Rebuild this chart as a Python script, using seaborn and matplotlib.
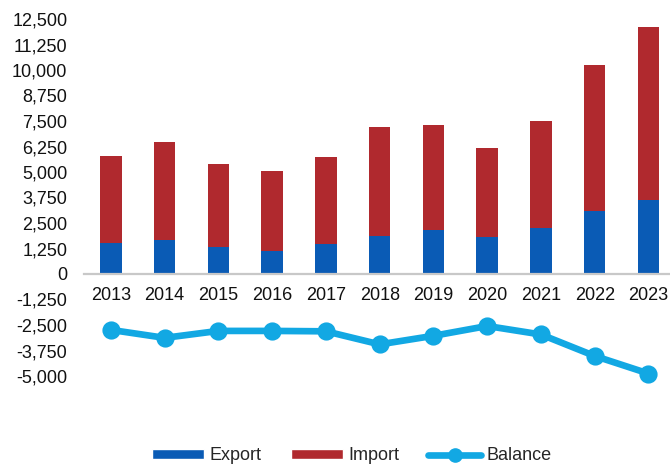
import matplotlib
matplotlib.use("Agg")
import matplotlib.pyplot as plt
import seaborn as sns
import pandas as pd
from matplotlib.patches import Patch
from matplotlib.lines import Line2D
from matplotlib.ticker import FuncFormatter

# values
years = ["2013", "2014", "2015", "2016", "2017", "2018", "2019", "2020", "2021", "2022", "2023"]
export = [1500, 1670, 1310, 1145, 1470, 1880, 2160, 1800, 2270, 3105, 3630]
imports = [4285, 4815, 4080, 3905, 4285, 5340, 5145, 4360, 5245, 7125, 8460]
balance = [-2740, -3130, -2790, -2790, -2810, -3450, -3030, -2550, -2965, -4020, -4880]
yticks = [-5000, -3750, -2500, -1250, 0, 1250, 2500, 3750, 5000,
          6250, 7500, 8750, 10000, 11250, 12500]

blue = "#0A5BB5"
red = "#B0292E"
light_blue = "#12A8E3"

df = pd.DataFrame({"year": years, "export": export, "import": imports, "balance": balance})
df["total"] = df["export"] + df["import"]

sns.set_style("white")
plt.rcParams["font.family"] = ["Liberation Sans", "DejaVu Sans"]

fig = plt.figure(figsize=(6.7, 4.67), dpi=100)
ax = fig.add_axes([84 / 670, 1 - 401.5 / 467, 586 / 670, (401.5 - 19) / 467])

# stacked bars: import sits on top of export
sns.barplot(data=df, x="year", y="total", color=red, width=0.4, saturation=1,
            linewidth=0, ax=ax, order=years)
sns.barplot(data=df, x="year", y="export", color=blue, width=0.4, saturation=1,
            linewidth=0, ax=ax, order=years)
sns.pointplot(data=df, x="year", y="balance", color=light_blue, order=years,
              markers="o", markersize=9.5, linewidth=4.8, ax=ax)

ax.set_xlim(-0.5, 10.4)
ax.set_ylim(-6250, 12500)
ax.set_yticks(yticks)
ax.yaxis.set_major_formatter(FuncFormatter(lambda v, p: f"{v:,.0f}"))
ax.set_xlabel("")
ax.set_ylabel("")

for s in ["top", "right", "left"]:
    ax.spines[s].set_visible(False)
ax.spines["bottom"].set_position(("data", 0))
ax.spines["bottom"].set_color("#c8c8c8")
ax.spines["bottom"].set_linewidth(1.6)
ax.tick_params(axis="y", length=0, pad=12, labelsize=13, labelcolor="#111111")
ax.tick_params(axis="x", length=0, pad=9, labelsize=13, labelcolor="#111111")

handles = [
    Patch(facecolor=blue, label="Export"),
    Patch(facecolor=red, label="Import"),
    Line2D([0], [0], color=light_blue, lw=4.8, marker="o", markersize=9.5, label="Balance"),
]
fig.legend(handles=handles, loc="center", bbox_to_anchor=(0.525, 0.024), ncol=3,
           frameon=False, fontsize=13, handlelength=2.9, handleheight=0.45,
           handletextpad=0.3, columnspacing=1.6)

fig.savefig("out.png", dpi=100)
